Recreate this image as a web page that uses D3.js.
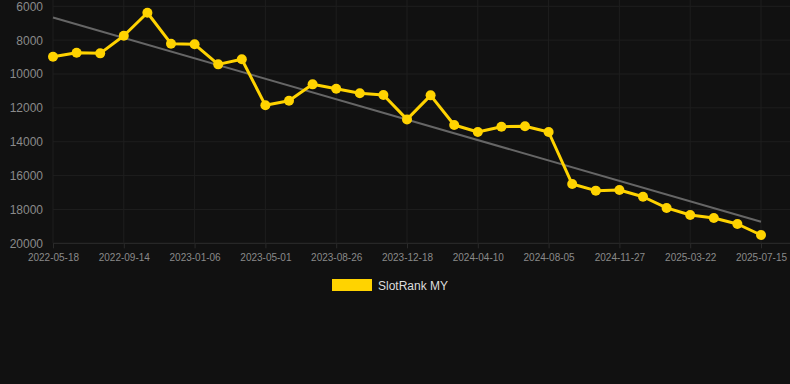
<!DOCTYPE html>
<html><head><meta charset="utf-8">
<script src="https://cdn.jsdelivr.net/npm/d3@7"></script>
<style>
html,body{margin:0;padding:0;background:#111111;}
svg{display:block;}
</style></head>
<body>
<svg id="chart" width="790" height="384"></svg>
<script>
const dates = ["2022-05-18","2022-06-26","2022-08-05","2022-09-14","2022-10-22","2022-11-29","2023-01-06","2023-02-13","2023-03-24","2023-05-01","2023-06-08","2023-07-18","2023-08-26","2023-10-03","2023-11-10","2023-12-18","2024-01-25","2024-03-03","2024-04-10","2024-05-19","2024-06-27","2024-08-05","2024-09-12","2024-10-20","2024-11-27","2025-01-04","2025-02-12","2025-03-22","2025-04-29","2025-06-06","2025-07-15"];
const ranks = [8980,8740,8780,7740,6380,8210,8245,9430,9130,11850,11580,10610,10870,11140,11240,12680,11260,13010,13425,13110,13090,13425,16500,16890,16850,17250,17910,18330,18505,18860,19510];
const yTicks = [6000,8000,10000,12000,14000,16000,18000,20000];
const seriesName = "SlotRank MY";

const svg = d3.select("#chart");
const mLeft = 53, mRight = 790, mTop = 6.3, mBottom = 243.3;
const step = (761 - 53) / (dates.length - 1);
const x = d3.scalePoint().domain(dates).range([mLeft, mLeft + step * (dates.length - 1)]);
const y = d3.scaleLinear().domain([6000, 20000]).range([mTop, mBottom]);

// grid
const g = svg.append("g");
g.selectAll("line.h").data(yTicks).enter().append("line")
  .attr("x1", mLeft).attr("x2", mRight)
  .attr("y1", d => y(d)).attr("y2", d => y(d))
  .attr("stroke", d => d === 20000 ? "#2e2e2e" : "#1e1e1e").attr("stroke-width", 1);
const xTickVals = dates.filter((d, i) => i % 3 === 0);
g.selectAll("line.v").data(xTickVals).enter().append("line")
  .attr("x1", d => x(d)).attr("x2", d => x(d))
  .attr("y1", 0).attr("y2", mBottom)
  .attr("stroke", "#1e1e1e").attr("stroke-width", 1);

// axes
const yAxis = d3.axisLeft(y).tickValues(yTicks).tickSize(0).tickPadding(10).tickFormat(d3.format("d"));
const ya = svg.append("g").attr("transform", `translate(${mLeft},0)`).call(yAxis);
ya.select(".domain").remove();
ya.selectAll("text").attr("fill", "#8a8a8a").style("font-family", "Arial, 'Liberation Sans', sans-serif").style("font-size", "12px");

const xAxis = d3.axisBottom(x).tickValues(xTickVals).tickSize(5).tickPadding(6);
const xa = svg.append("g").attr("transform", `translate(0,${mBottom})`).call(xAxis);
xa.select(".domain").remove();
xa.selectAll("line").attr("stroke", "#2a2a2a");
xa.selectAll("text").attr("fill", "#8a8a8a").style("font-family", "Arial, 'Liberation Sans', sans-serif").style("font-size", "10px");

// trend (least squares)
const n = ranks.length;
const xs = d3.range(n);
const mx = d3.mean(xs), my = d3.mean(ranks);
const slope = d3.sum(xs, i => (i - mx) * (ranks[i] - my)) / d3.sum(xs, i => (i - mx) * (i - mx));
const icpt = my - slope * mx;
svg.append("line")
  .attr("x1", x(dates[0])).attr("y1", y(icpt))
  .attr("x2", x(dates[n-1])).attr("y2", y(icpt + slope * (n - 1)))
  .attr("stroke", "#666666").attr("stroke-width", 2);

// series
const line = d3.line().x((d, i) => x(dates[i])).y(d => y(d));
svg.append("path").datum(ranks).attr("d", line)
  .attr("fill", "none").attr("stroke", "#FFD300").attr("stroke-width", 3).attr("stroke-linejoin", "round");
svg.selectAll("circle.pt").data(ranks).enter().append("circle")
  .attr("cx", (d, i) => x(dates[i])).attr("cy", d => y(d)).attr("r", 5)
  .attr("fill", "#FFD300");

// legend
svg.append("rect").attr("x", 332).attr("y", 279).attr("width", 40).attr("height", 12).attr("fill", "#FFD300");
svg.append("text").attr("x", 378).attr("y", 289.5).text(seriesName)
  .attr("fill", "#dddddd").style("font-family", "Arial, 'Liberation Sans', sans-serif").style("font-size", "12px");
</script>
</body></html>
